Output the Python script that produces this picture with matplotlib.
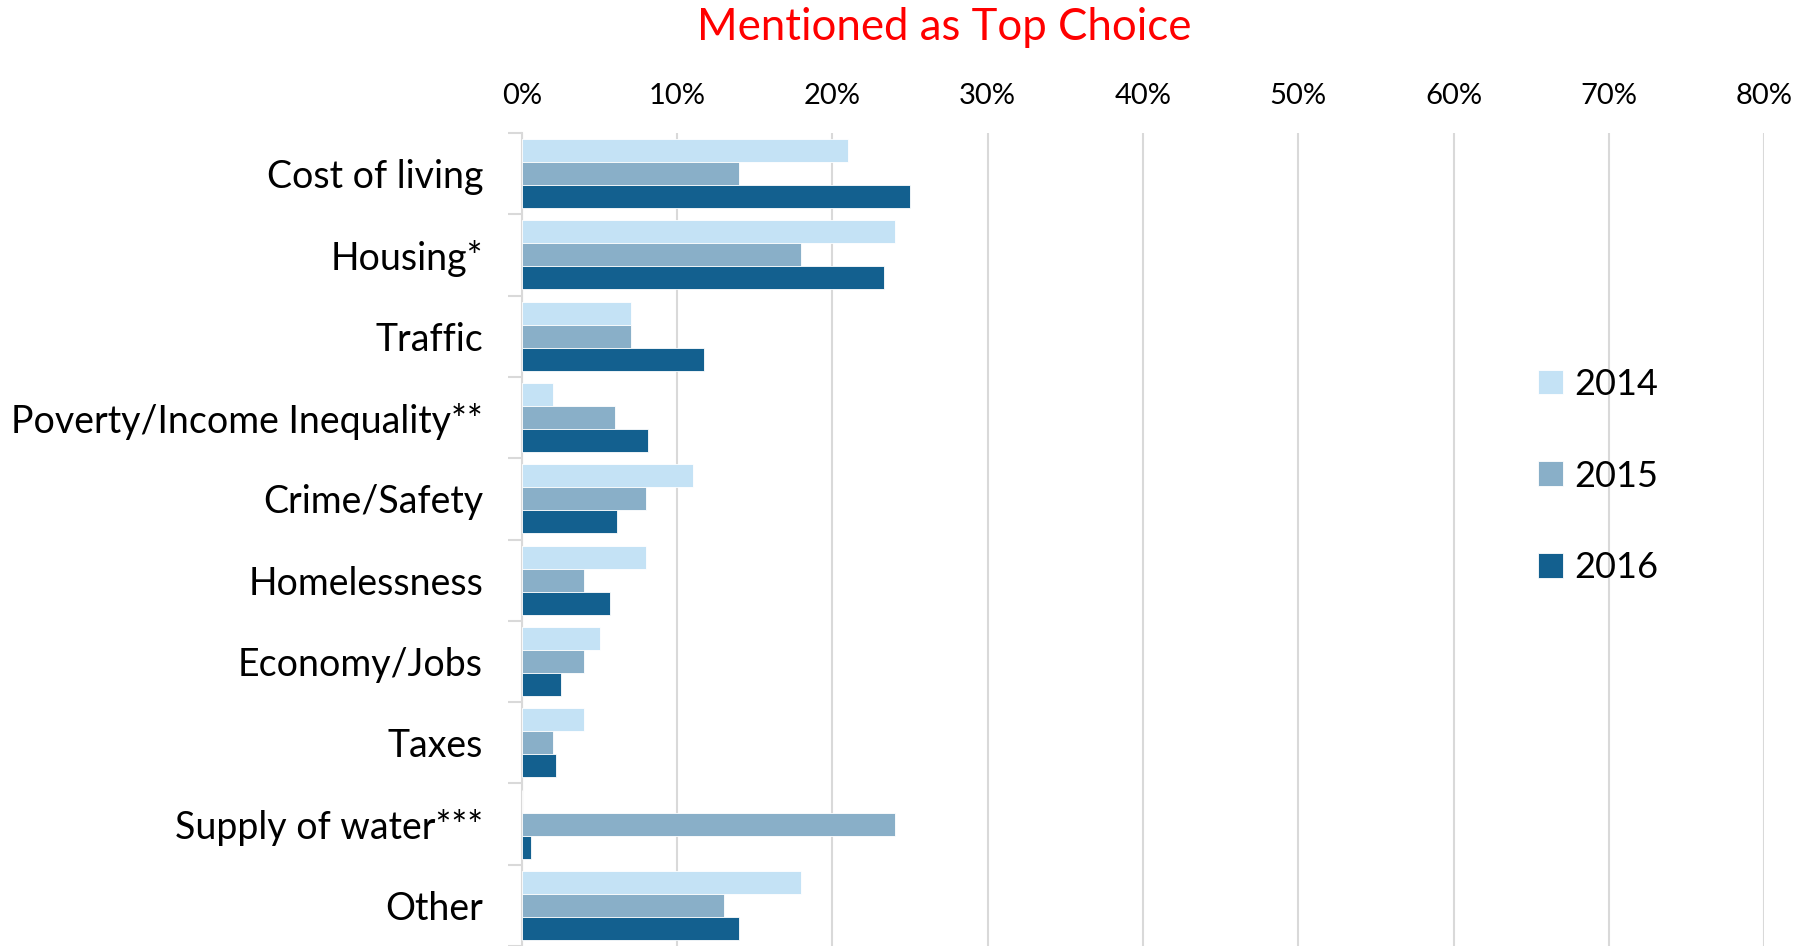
import numpy as np
import matplotlib
matplotlib.use("Agg")
import matplotlib.pyplot as plt
from matplotlib.ticker import FixedLocator, PercentFormatter

# data (percent of respondents)
categories = [
    "Cost of living", "Housing*", "Traffic", "Poverty/Income Inequality**",
    "Crime/Safety", "Homelessness", "Economy/Jobs", "Taxes",
    "Supply of water***", "Other",
]
years = ["2014", "2015", "2016"]
vals_2014 = [21.0, 24.0, 7.0, 2.0, 11.0, 8.0, 5.0, 4.0, 0.0, 18.0]
vals_2015 = [14.0, 18.0, 7.0, 6.0, 8.0, 4.0, 4.0, 2.0, 24.0, 13.0]
vals_2016 = [25.0, 23.3, 11.7, 8.1, 6.1, 5.7, 2.5, 2.2, 0.6, 14.0]
x_ticks = [0, 10, 20, 30, 40, 50, 60, 70, 80]

colors = ["#C4E2F5", "#89AFC8", "#13608F"]
grid_col = "#D9D9D9"

plt.rcParams["font.family"] = ["Lato", "DejaVu Sans"]

fig = plt.figure(figsize=(18.08, 9.46), dpi=100)
ax = fig.add_axes([0.2887, 0.0, 0.687, 0.8594])

y = np.arange(len(categories))
h = 0.283
for i, (vals, col, lab) in enumerate(zip([vals_2014, vals_2015, vals_2016], colors, years)):
    ax.barh(y + (i - 1) * h, vals, height=h, color=col, label=lab,
            edgecolor="white", linewidth=0.6, zorder=3)

ax.set_xlim(0, 80)
ax.set_ylim(len(categories) - 0.5, -0.5)
ax.xaxis.tick_top()
ax.set_xticks(x_ticks)
ax.xaxis.set_major_formatter(PercentFormatter(decimals=0))
ax.tick_params(axis="x", length=0, pad=17, labelsize=21)
ax.grid(axis="x", color=grid_col, lw=1.5, zorder=0)

ax.set_yticks(y)
ax.set_yticklabels(categories)
ax.yaxis.set_minor_locator(FixedLocator(np.arange(-0.5, len(categories), 1.0)))
ax.tick_params(axis="y", which="major", length=0, pad=28, labelsize=27)
ax.tick_params(axis="y", which="minor", length=10, width=1.5, color=grid_col)

for s in ["top", "right", "bottom"]:
    ax.spines[s].set_visible(False)
ax.spines["left"].set_color(grid_col)
ax.spines["left"].set_linewidth(1.5)

fig.text(944 / 1808, 1 - 27 / 946, "Mentioned as Top Choice", color="#FF0000",
         fontsize=31.5, ha="center", va="center")

leg = ax.legend(loc="center left", bbox_to_anchor=(1506 / 1808, 1 - 476 / 946),
                bbox_transform=fig.transFigure, frameon=False, fontsize=26,
                handlelength=0.68, handleheight=0.68, handletextpad=0.3,
                labelspacing=1.63)

plt.savefig("out.png", dpi=100)
plt.close("all")
